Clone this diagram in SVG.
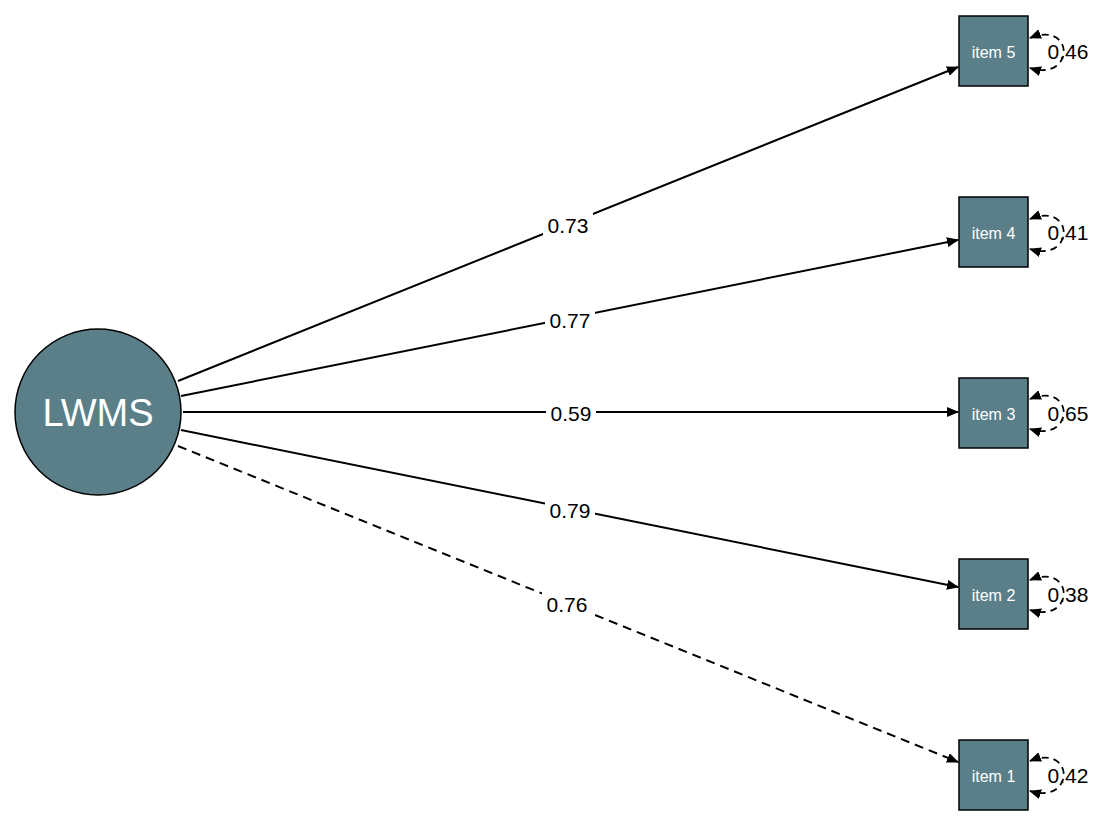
<svg xmlns="http://www.w3.org/2000/svg" width="1111" height="823" viewBox="0 0 1111 823">
<style>
.n{fill:#5a7f89;stroke:#000;stroke-width:1.5}
.e{stroke:#000;stroke-width:2;fill:none;marker-end:url(#a)}
.d{stroke-dasharray:9,6}
.r{stroke:#000;stroke-width:1.8;fill:none;stroke-dasharray:7,5;marker-start:url(#a2);marker-end:url(#a)}
.l{font-family:"Liberation Sans",Arial,sans-serif;font-size:21px;text-anchor:middle;dominant-baseline:central}
.bg{fill:#fff}
.t{font-family:"Liberation Sans",Arial,sans-serif;fill:#fff;text-anchor:middle;dominant-baseline:central}
</style>
<defs>
<marker id="a" markerWidth="12" markerHeight="10" refX="11" refY="5" orient="auto" markerUnits="userSpaceOnUse"><path d="M0,0L12,5L0,10z"/></marker>
<marker id="a2" markerWidth="12" markerHeight="10" refX="1" refY="5" orient="auto" markerUnits="userSpaceOnUse"><path d="M12,0L0,5L12,10z"/></marker>
</defs>
<rect width="1111" height="823" fill="#fff"/>
<g id="connectors">
<path class="e" d="M178,381L958,67"/>
<path class="e" d="M181,396L958,240"/>
<path class="e" d="M183,412L958,412"/>
<path class="e" d="M181,430L958,587"/>
<path class="e d" d="M178,446L958,762"/>
<g id="loops">
<path class="r" d="M1030,38C1075,20 1075,82 1030,68"/>
<path class="r" d="M1030,219C1075,201 1075,263 1030,249"/>
<path class="r" d="M1030,399C1075,381 1075,443 1030,429"/>
<path class="r" d="M1030,580C1075,562 1075,624 1030,610"/>
<path class="r" d="M1030,761C1075,743 1075,805 1030,791"/>
</g>
<g id="labels">
<rect class="bg" x="543" y="212" width="50" height="26"/><text class="l" x="568" y="225">0.73</text>
<rect class="bg" x="545" y="307" width="50" height="26"/><text class="l" x="570" y="320">0.77</text>
<rect class="bg" x="546" y="400" width="50" height="26"/><text class="l" x="571" y="413">0.59</text>
<rect class="bg" x="545" y="497" width="50" height="26"/><text class="l" x="570" y="510">0.79</text>
<rect class="bg" x="542" y="591" width="50" height="26"/><text class="l" x="567" y="604">0.76</text>
<text class="l" x="1068" y="51">0.46</text>
<text class="l" x="1068" y="232">0.41</text>
<text class="l" x="1068" y="413">0.65</text>
<text class="l" x="1068" y="594">0.38</text>
<text class="l" x="1068" y="775">0.42</text>
</g>
</g>
<g id="LWMS"><circle class="n" cx="98" cy="412" r="83"/><text class="t" x="98" y="413" font-size="38">LWMS</text></g>
<g id="item5"><rect class="n" x="959" y="16" width="69" height="70"/><text class="t" x="993.5" y="52" font-size="16">item 5</text></g>
<g id="item4"><rect class="n" x="959" y="197" width="69" height="70"/><text class="t" x="993.5" y="233" font-size="16">item 4</text></g>
<g id="item3"><rect class="n" x="959" y="378" width="69" height="70"/><text class="t" x="993.5" y="414" font-size="16">item 3</text></g>
<g id="item2"><rect class="n" x="959" y="559" width="69" height="70"/><text class="t" x="993.5" y="595" font-size="16">item 2</text></g>
<g id="item1"><rect class="n" x="959" y="740" width="69" height="70"/><text class="t" x="993.5" y="776" font-size="16">item 1</text></g>
</svg>
